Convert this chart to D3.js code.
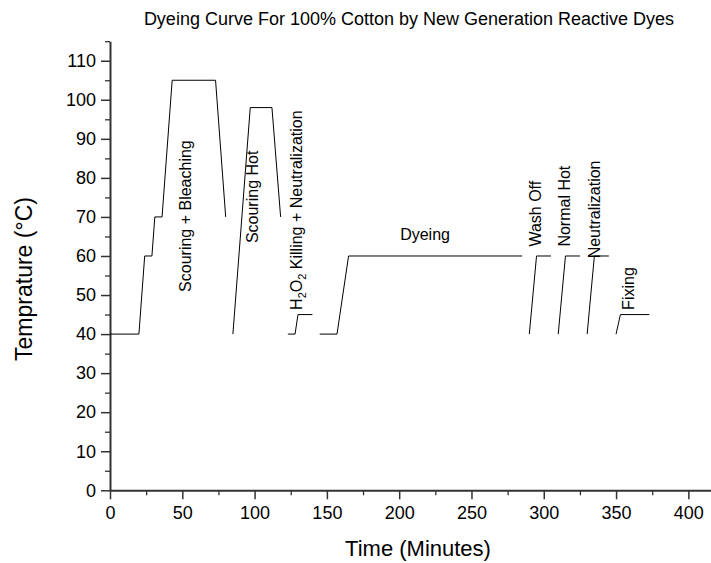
<!DOCTYPE html>
<html>
<head>
<meta charset="utf-8">
<script src="https://cdn.jsdelivr.net/npm/d3@7"></script>
<style>
  html, body { margin: 0; padding: 0; background: #fff; }
  svg { display: block; }
  text { font-family: "Liberation Sans", Arial, sans-serif; fill: #000; }
</style>
</head>
<body>
<svg id="chart" width="711" height="563"></svg>
<script>
// ---- Data (time in minutes, temperature in °C) ----
const stageNames = ["Scouring + Bleaching", "Scouring Hot", "H2O2 Killing + Neutralization", "Dyeing",
                    "Wash Off", "Normal Hot", "Neutralization", "Fixing"];
const scourBleachTime = [0, 20, 24, 29, 31, 36, 43, 73, 80];
const scourBleachTemp = [40, 40, 60, 60, 70, 70, 105, 105, 70];
const scourHotTime = [85, 97, 112, 118];
const scourHotTemp = [40, 98, 98, 70];
const killingTime = [123, 128, 130, 140];
const killingTemp = [40, 40, 45, 45];
const dyeingTime = [145, 157, 165, 285];
const dyeingTemp = [40, 40, 60, 60];
const washOffTime = [290, 295, 305];
const washOffTemp = [40, 60, 60];
const normalHotTime = [310, 315, 325];
const normalHotTemp = [40, 60, 60];
const neutralTime = [330, 335, 345];
const neutralTemp = [40, 60, 60];
const fixingTime = [350, 353, 373];
const fixingTemp = [40, 45, 45];

// label anchor positions (data units): start of text
const labelTime = [56, 102.6, 132.6, 217.9, 297.9, 318.2, 338.9, 362.4];
const labelTemp = [50.8, 63.3, 46.2, 64.1, 62.4, 62.4, 59.4, 46.2];

const xTicks = [0, 50, 100, 150, 200, 250, 300, 350, 400];
const xMinorTicks = [25, 75, 125, 175, 225, 275, 325, 375];
const yTicks = [0, 10, 20, 30, 40, 50, 60, 70, 80, 90, 100, 110];
const yMinorTicks = [5, 15, 25, 35, 45, 55, 65, 75, 85, 95, 105, 115];

const titleText = "Dyeing Curve For 100% Cotton by New Generation Reactive Dyes";
const xTitle = "Time (Minutes)";
const yTitle = "Temprature (°C)";

// ---- Drawing ----
const svg = d3.select("#chart");
const x = d3.scaleLinear().domain([0, 416]).range([110, 711.5]);
const y = d3.scaleLinear().domain([0, 115]).range([490.3, 41.2]);

const axisColor = "#333";

// minor ticks
const gxMinor = svg.append("g").attr("transform", `translate(0,${y(0)})`)
  .call(d3.axisBottom(x).tickValues(xMinorTicks).tickSize(5).tickSizeOuter(0).tickFormat(""));
const gyMinor = svg.append("g").attr("transform", `translate(${x(0)},0)`)
  .call(d3.axisLeft(y).tickValues(yMinorTicks).tickSize(5).tickSizeOuter(0).tickFormat(""));
[gxMinor, gyMinor].forEach(g => { g.select(".domain").remove(); g.selectAll("line").attr("stroke", axisColor).attr("stroke-width", 1.3); });

// major axes
const gx = svg.append("g").attr("transform", `translate(0,${y(0)})`)
  .call(d3.axisBottom(x).tickValues(xTicks).tickSize(9).tickSizeOuter(0).tickPadding(7));
const gy = svg.append("g").attr("transform", `translate(${x(0)},0)`)
  .call(d3.axisLeft(y).tickValues(yTicks).tickSize(9).tickSizeOuter(0).tickPadding(5));
[gx, gy].forEach(g => {
  g.select(".domain").attr("stroke", axisColor).attr("stroke-width", 2);
  g.selectAll(".tick line").attr("stroke", axisColor).attr("stroke-width", 1.5);
  g.selectAll(".tick text").style("font-size", "18px").style("font-family", "'Liberation Sans', Arial, sans-serif").attr("fill", "#000");
});

// curves
const stages = [
  [scourBleachTime, scourBleachTemp],
  [scourHotTime, scourHotTemp],
  [killingTime, killingTemp],
  [dyeingTime, dyeingTemp],
  [washOffTime, washOffTemp],
  [normalHotTime, normalHotTemp],
  [neutralTime, neutralTemp],
  [fixingTime, fixingTemp]
];
const line = d3.line().x(d => x(d[0])).y(d => y(d[1]));
svg.append("g").selectAll("path").data(stages).join("path")
  .attr("d", s => line(s[0].map((t, i) => [t, s[1][i]])))
  .attr("fill", "none").attr("stroke", "#000").attr("stroke-width", 1);

// stage labels
stageNames.forEach((name, i) => {
  const px = x(labelTime[i]), py = y(labelTemp[i]);
  if (name === "Dyeing") {
    svg.append("text").attr("x", px).attr("y", py).attr("text-anchor", "middle")
      .style("font-size", "16px").text(name);
    return;
  }
  const t = svg.append("text").attr("transform", `translate(${px},${py}) rotate(-90)`)
    .style("font-size", "16px");
  if (name.startsWith("H2O2")) {
    t.append("tspan").text("H");
    t.append("tspan").attr("dy", 4).style("font-size", "11px").text("2");
    t.append("tspan").attr("dy", -4).text("O");
    t.append("tspan").attr("dy", 4).style("font-size", "11px").text("2");
    t.append("tspan").attr("dy", -4).text(" Killing + Neutralization");
  } else {
    t.text(name);
  }
});

// titles
svg.append("text").attr("x", 409).attr("y", 25).attr("text-anchor", "middle")
  .style("font-size", "18px").text(titleText);
svg.append("text").attr("x", 418).attr("y", 556).attr("text-anchor", "middle")
  .style("font-size", "22px").text(xTitle);
svg.append("text").attr("transform", "translate(31.5,279) rotate(-90)").attr("text-anchor", "middle")
  .style("font-size", "23px").text(yTitle);
</script>
</body>
</html>
